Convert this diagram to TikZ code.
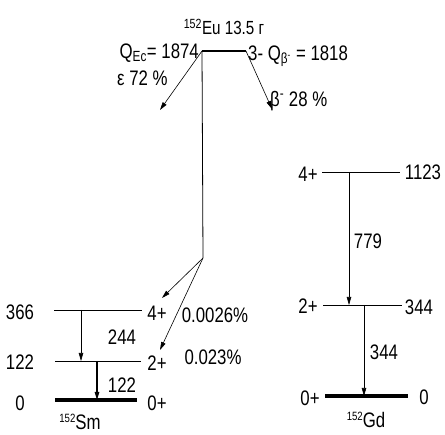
\documentclass[tikz,border=0pt]{standalone}
\usepackage{fontspec}
\setmainfont[FakeStretch=0.8]{Liberation Sans}
\usetikzlibrary{arrows.meta}

\begin{document}
\begin{tikzpicture}[
        x=1pt, y=-1pt,
        lbl/.style={font=\fontsize{21}{23}\selectfont, inner sep=0pt},
        level/.style={line width=0.8pt},
        gslevel/.style={line width=3.5pt},
        arrow/.style={-{Triangle[length=8pt,width=4.5pt]}, line width=0.6pt}
        ]
        \useasboundingbox (0,0) rectangle (445,435);

        % parent 152Eu
        \coordinate (euL) at (202,51);
        \coordinate (euR) at (246,51);
        \coordinate (euB) at (203,258);
        \coordinate (ecEnd) at (160,110);
        \coordinate (btEnd) at (272,109);
        \draw [line width=2.5pt] (euL) -- (euR);
        \node (eu) [lbl, font=\fontsize{19}{20}\selectfont] at (224,27) {\textsuperscript{152}Eu 13.5 г};
        \node (qec) [lbl, anchor=east] at (199,53) {Q\textsubscript{Ec}= 1874};
        \node (qbt) [lbl, anchor=west] at (248,56) {3- Q\textsubscript{β\textsuperscript{-}} = 1818};
        \node (ec) [lbl, anchor=west] at (117,78) {ε 72 \%};
        \node (bt) [lbl, anchor=west] at (270,101) {β\textsuperscript{-} 28 \%};

        \draw [arrow] (euL) -- (ecEnd);
        \draw [arrow] (euR) -- (btEnd);
        \draw [level] (euL) -- (euB);

        % daughter 152Sm
        \coordinate (sm4L) at (54,310);
        \coordinate (sm4R) at (142,310);
        \coordinate (sm2L) at (55,361);
        \coordinate (sm2R) at (141,361);
        \coordinate (sm0L) at (55,400);
        \coordinate (sm0R) at (137,400);
        \coordinate (to4) at (162,298);
        \coordinate (to2) at (160,350);
        \draw [level] (sm4L) -- (sm4R);
        \draw [level] (sm2L) -- (sm2R);
        \draw [gslevel] (sm0L) -- (sm0R);

        \node (e366) [lbl] at (20,312) {366};
        \node (e122) [lbl] at (20,362) {122};
        \node (e0) [lbl] at (20,403) {0};
        \node (sp4) [lbl] at (157,313) {4+};
        \node (sp2) [lbl] at (157,363) {2+};
        \node (sp0) [lbl] at (157,403) {0+};
        \node (g244) [lbl] at (122,337) {244};
        \node (g122) [lbl] at (122,385) {122};
        \node (i4) [lbl] at (215,315) {0.0026\%};
        \node (i2) [lbl] at (213,357) {0.023\%};
        \node (sm) [lbl] at (80,422) {{\fontsize{12}{12}\selectfont\raisebox{0.6em}{152}}Sm};

        \draw [arrow] (euB) -- (to4);
        \draw [arrow] (euB) -- (to2);
        \draw [arrow] (81,310) -- (81,361);
        \draw [arrow, line width=1.2pt] (97,361) -- (97,400);

        % daughter 152Gd
        \coordinate (gd4L) at (322,172);
        \coordinate (gd4R) at (400,172);
        \coordinate (gd2L) at (323,305);
        \coordinate (gd2R) at (402,305);
        \coordinate (gd0L) at (325,396);
        \coordinate (gd0R) at (408,396);
        \draw [level] (gd4L) -- (gd4R);
        \draw [level] (gd2L) -- (gd2R);
        \draw [gslevel] (gd0L) -- (gd0R);

        \node (gp4) [lbl] at (308,174) {4+};
        \node (gp2) [lbl] at (308,306) {2+};
        \node (gp0) [lbl] at (310,398) {0+};
        \node (f1123) [lbl] at (423,172) {1123};
        \node (f344) [lbl] at (419,307) {344};
        \node (f0) [lbl] at (424,397) {0};
        \node (g779) [lbl] at (368,241) {779};
        \node (g344) [lbl] at (384,352) {344};
        \node (gd) [lbl] at (366,420) {{\fontsize{12}{12}\selectfont\raisebox{0.6em}{152}}Gd};

        \draw [arrow] (349,172) -- (349,305);
        \draw [arrow] (364,305) -- (364,396);
    \end{tikzpicture}
\end{document}
